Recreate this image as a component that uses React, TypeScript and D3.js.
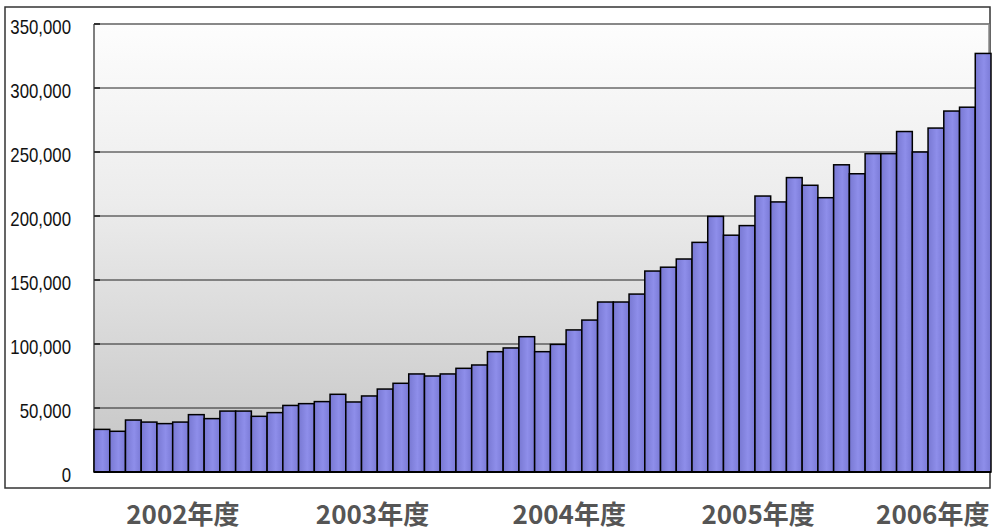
import * as React from 'react';
import * as d3 from 'd3';

// monthly totals, Apr 2002 .. Dec 2006
const years = [2002, 2003, 2004, 2005, 2006];
const monthNames = ['04', '05', '06', '07', '08', '09', '10', '11', '12', '01', '02', '03'];
const months: string[] = [];
years.forEach((yr) => monthNames.forEach((m, i) => months.push(`${i < 9 ? yr : yr + 1}/${m}`)));
const categories = months.slice(0, 57);

const values = [
  33300, 31800, 40600, 39000, 37800, 39000, 44800, 41700, 47600, 47600, 43500, 46400,
  52000, 53400, 55000, 60700, 54700, 59400, 64800, 69300, 76600, 75000, 76600, 81000,
  83600, 94000, 96900, 105700, 94000, 99700, 111000, 118700, 132800, 132800, 139000, 157000,
  160000, 166400, 179400, 199700, 185000, 192500, 215600, 211000, 230000, 224000, 214300, 240000,
  233000, 248700, 248700, 266000, 250000, 268700, 282000, 285000, 327000,
];

const yTicks = [0, 50000, 100000, 150000, 200000, 250000, 300000, 350000];
const yearLabels = ['2002年度', '2003年度', '2004年度', '2005年度', '2006年度'];
// where each year label sits, in bar units from the left edge
const yearLabelAt = [5.65, 17.7, 30.2, 42.2, 53.3];

const W = 994, H = 532;
const plotL = 94, plotR = 991, plotT = 24, plotB = 472;

export default function App() {
  const x = d3.scaleBand<string>().domain(categories).range([plotL, plotR]).padding(0);
  const y = d3.scaleLinear().domain([0, 350000]).range([plotB, plotT]);
  const fmt = d3.format(',');

  return (
    <svg width={W} height={H} style={{ position: 'absolute', left: 0, top: 0, background: '#fff' }}>
      <defs>
        <linearGradient id="bg" x1="0" y1="0" x2="0" y2="1">
          <stop offset="0%" stopColor="#fdfdfd" />
          <stop offset="40%" stopColor="#ececec" />
          <stop offset="100%" stopColor="#c4c4c4" />
        </linearGradient>
        <linearGradient id="bar" x1="0" y1="0" x2="1" y2="0">
          <stop offset="0%" stopColor="#7878d2" />
          <stop offset="55%" stopColor="#8e8eea" />
          <stop offset="100%" stopColor="#7a7ad6" />
        </linearGradient>
      </defs>

      {/* outer frame */}
      <rect x={5} y={7} width={985} height={481} fill="#fff" stroke="#333" strokeWidth={1.5} />

      {/* plot background */}
      <rect x={plotL} y={plotT} width={989 - plotL} height={plotB - plotT} fill="url(#bg)" />

      {yTicks.filter((t) => t > 0 && t < 350000).map((t) => (
        <line key={t} x1={plotL} x2={989} y1={y(t)} y2={y(t)} stroke="#222" strokeWidth={1} />
      ))}
      <line x1={plotL} x2={989} y1={y(350000)} y2={y(350000)} stroke="#888" strokeWidth={2} />
      <line x1={989} x2={989} y1={plotT} y2={plotB} stroke="#888" strokeWidth={1.5} />
      <line x1={plotL} x2={plotL} y1={plotT} y2={plotB} stroke="#555" strokeWidth={1.5} />
      {yTicks.map((t) => (
        <line key={'tk' + t} x1={plotL} x2={plotL + 6} y1={y(t)} y2={y(t)} stroke="#333" strokeWidth={2} />
      ))}

      {values.map((v, i) => (
        <rect
          key={categories[i]}
          x={x(categories[i])!}
          y={y(v)}
          width={x.bandwidth()}
          height={plotB - y(v)}
          fill="url(#bar)"
          stroke="#000"
          strokeWidth={1.5}
        />
      ))}
      <line x1={plotL} x2={plotR} y1={plotB} y2={plotB} stroke="#000" strokeWidth={2} />

      {yTicks.map((t) => (
        <g key={'lb' + t} transform={`translate(71,${y(t) + 10}) scale(0.84,1)`}>
          <text textAnchor="end" fontFamily="'Liberation Sans', Arial, sans-serif" fontSize={20} fill="#111">
            {fmt(t)}
          </text>
        </g>
      ))}

      {yearLabels.map((lab, i) => (
        <text
          key={lab}
          x={plotL + yearLabelAt[i] * x.bandwidth()}
          y={524}
          textAnchor="middle"
          fontFamily="'Noto Sans CJK JP', sans-serif"
          fontWeight="bold"
          fontSize={26}
          fill="#555"
        >
          {lab}
        </text>
      ))}
    </svg>
  );
}
